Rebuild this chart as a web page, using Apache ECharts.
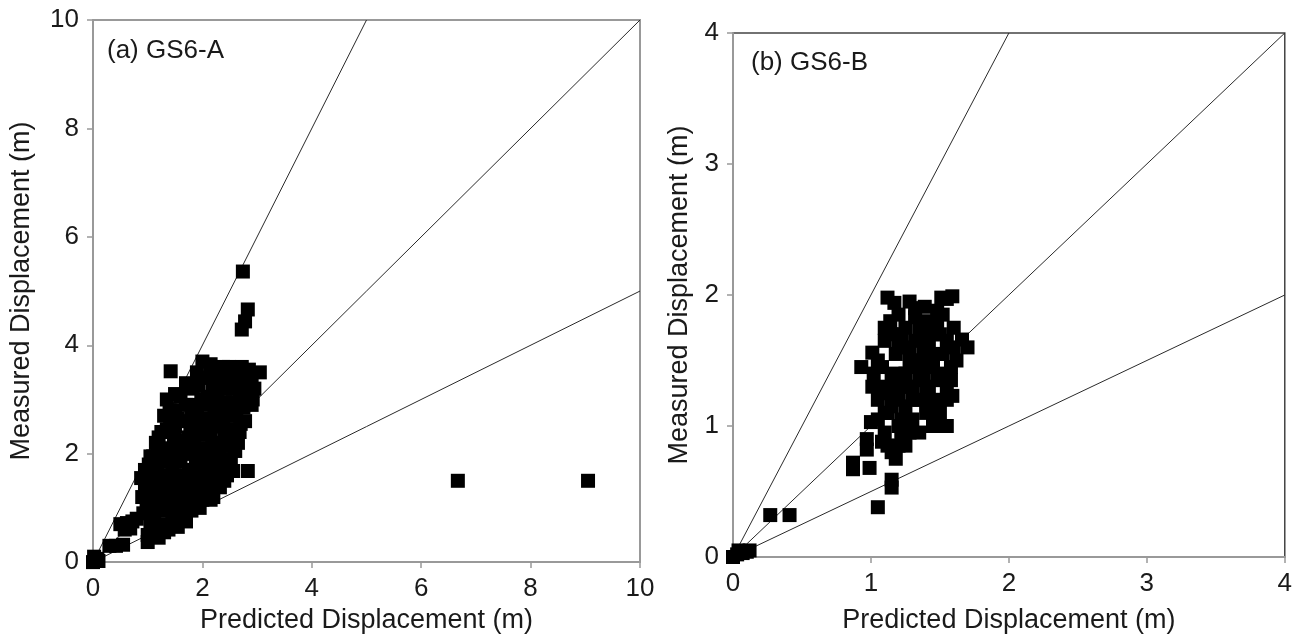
<!DOCTYPE html>
<html>
<head>
<meta charset="utf-8">
<script src="https://cdn.jsdelivr.net/npm/echarts@6/dist/echarts.min.js"></script>
<style>
  html, body { margin: 0; padding: 0; background: #fff; }
  #chart { width: 1295px; height: 639px; }
</style>
</head>
<body>
<div id="chart"></div>
<script>
// Panel (a) GS6-A: [predicted, measured] displacement in metres
const gs6aPoints = [
  [0, 0], [0.04, 0.03], [0.08, 0.06], [0.02, 0.1], [0.1, 0.02],
  [0.3, 0.3], [0.42, 0.3], [0.55, 0.32], [0.5, 0.7], [0.62, 0.72], [0.72, 0.75],
  [0.8, 0.8], [0.68, 0.62], [0.58, 0.6], [1.0, 0.37],
  [0.88, 1.55], [0.9, 1.2], [0.92, 0.9], [0.95, 1.7], [0.98, 1.0], [1.0, 0.5],
  [1.0, 1.35], [1.02, 1.8], [1.05, 0.75], [1.05, 1.1], [1.08, 1.5], [1.1, 0.6],
  [1.1, 1.95], [1.12, 0.9], [1.15, 1.25], [1.15, 2.2], [1.18, 1.65], [1.2, 0.45],
  [1.2, 1.0], [1.22, 1.4], [1.25, 2.4], [1.25, 0.7], [1.28, 1.85], [1.3, 1.1],
  [1.3, 2.7], [1.32, 0.95], [1.35, 1.55], [1.35, 2.1], [1.38, 0.6], [1.4, 1.3],
  [1.4, 2.8], [1.42, 3.52], [1.45, 1.75], [1.45, 0.8], [1.48, 2.3], [1.5, 1.05],
  [1.5, 2.0], [1.5, 2.8], [1.52, 1.45], [1.55, 0.65], [1.55, 2.65], [1.58, 1.2],
  [1.6, 1.85], [1.6, 3.05], [1.62, 0.9], [1.65, 1.6], [1.65, 2.25], [1.68, 1.35],
  [1.7, 2.9], [1.7, 0.75], [1.72, 1.1], [1.75, 2.0], [1.75, 1.7], [1.78, 2.5],
  [1.8, 0.95], [1.8, 1.4], [1.82, 3.2], [1.85, 2.2], [1.85, 1.2], [1.88, 1.85],
  [1.9, 2.7], [1.9, 3.5], [1.92, 1.55], [1.95, 1.0], [1.95, 2.35], [1.98, 3.0],
  [2.0, 1.75], [2.0, 3.7], [2.02, 1.3], [2.05, 2.1], [2.05, 2.9], [2.08, 1.9],
  [2.1, 3.4], [2.1, 1.5], [2.12, 2.5], [2.15, 1.15], [2.15, 3.65], [2.18, 2.2],
  [2.2, 1.7], [2.2, 3.1], [2.22, 2.8], [2.25, 1.4], [2.25, 3.55], [2.28, 2.0],
  [2.3, 2.6], [2.32, 1.38], [2.32, 3.3], [2.35, 1.8], [2.38, 3.6], [2.4, 2.3],
  [2.42, 2.95], [2.45, 1.6], [2.45, 3.4], [2.48, 2.15], [2.5, 2.7], [2.5, 3.55],
  [2.52, 1.9], [2.55, 3.2], [2.56, 1.68], [2.58, 2.45], [2.6, 2.9], [2.62, 3.5],
  [2.65, 2.2], [2.68, 3.1], [2.7, 2.55], [2.72, 3.6], [2.72, 4.29], [2.74, 5.36],
  [2.75, 2.85], [2.78, 4.44], [2.8, 3.3], [2.83, 1.68], [2.83, 4.66], [2.85, 2.95],
  [2.88, 3.45], [2.9, 2.9], [2.95, 3.2], [3.05, 3.5],
  [1.9, 1.05], [2.1, 1.25], [2.2, 1.2], [1.7, 0.9], [1.6, 1.0], [1.3, 0.55],
  [0.95, 1.3], [1.0, 1.55], [1.05, 1.95], [1.1, 1.3], [1.12, 1.7], [1.18, 2.0],
  [1.2, 2.3], [1.25, 1.6], [1.28, 1.25], [1.3, 1.95], [1.35, 2.45], [1.38, 1.05],
  [1.4, 1.9], [1.42, 2.6], [1.45, 1.2], [1.48, 1.6], [1.5, 2.5], [1.52, 0.85],
  [1.55, 1.5], [1.58, 2.2], [1.6, 1.35], [1.62, 2.6], [1.65, 1.1], [1.68, 2.0],
  [1.72, 1.5], [1.75, 2.3], [1.78, 1.05], [1.8, 2.7], [1.82, 1.6], [1.85, 2.9],
  [1.88, 1.35], [1.9, 2.1], [1.92, 3.25], [1.95, 1.8], [1.98, 2.55], [2.0, 1.15],
  [2.02, 3.4], [2.05, 1.6], [2.08, 2.65], [2.1, 3.05], [2.12, 1.95], [2.15, 2.35],
  [2.18, 3.3], [2.2, 1.55], [2.25, 2.6], [2.28, 3.0], [2.3, 2.15], [2.35, 3.45],
  [2.38, 2.5], [2.4, 1.9], [2.42, 3.2], [2.45, 2.75], [2.48, 3.6], [2.52, 2.35],
  [2.55, 2.95], [2.58, 3.35], [2.6, 2.05], [2.62, 2.7], [2.65, 3.3], [2.68, 2.4],
  [2.72, 3.0], [2.75, 3.45], [2.78, 2.6], [2.8, 3.1], [2.85, 3.55], [2.9, 3.35],
  [2.92, 3.0], [1.35, 3.0], [1.5, 3.1], [1.7, 3.3], [2.0, 2.0], [2.3, 1.75],
  [2.4, 1.5], [1.15, 1.5], [1.05, 0.95],
  [6.67, 1.5], [9.05, 1.5]
];

// Panel (b) GS6-B: [predicted, measured] displacement in metres
const gs6bPoints = [
  [0, 0], [0.03, 0.02], [0.07, 0.03], [0.1, 0.04], [0.04, 0.05], [0.12, 0.05],
  [0.27, 0.32], [0.41, 0.32], [1.05, 0.38], [1.15, 0.53], [1.15, 0.59],
  [0.87, 0.67], [0.87, 0.72], [0.99, 0.68], [0.97, 0.82], [0.97, 0.9],
  [1.0, 1.03], [1.12, 1.98], [1.17, 1.94], [1.32, 1.9], [1.39, 1.91],
  [1.51, 1.98], [1.59, 1.99], [1.55, 1.97], [1.14, 1.8], [1.32, 1.83],
  [1.48, 1.79], [1.66, 1.66], [1.7, 1.6], [0.93, 1.45], [1.01, 1.56],
  [1.01, 1.3], [1.59, 1.23], [1.05, 1.2], [1.08, 1.45], [1.1, 0.95],
  [1.1, 1.65], [1.12, 1.1], [1.15, 1.35], [1.15, 0.8], [1.18, 1.55],
  [1.2, 1.0], [1.2, 1.25], [1.22, 1.7], [1.22, 0.9], [1.25, 1.4],
  [1.25, 1.15], [1.28, 1.6], [1.3, 1.05], [1.3, 1.3], [1.32, 1.5],
  [1.35, 1.2], [1.35, 1.75], [1.38, 1.4], [1.4, 1.6], [1.4, 1.1],
  [1.42, 1.3], [1.45, 1.5], [1.45, 1.0], [1.48, 1.2], [1.5, 1.7],
  [1.5, 1.4], [1.52, 1.55], [1.55, 1.0], [1.55, 1.3], [1.58, 1.45],
  [1.6, 1.6], [1.62, 1.5], [1.18, 0.75], [1.25, 0.85], [1.08, 0.88],
  [1.2, 1.85], [1.42, 1.65], [1.3, 1.45], [1.12, 1.25], [1.48, 1.88],
  [1.05, 1.5], [1.28, 1.95],
  [1.05, 1.05], [1.08, 1.3], [1.1, 1.75], [1.12, 0.85], [1.15, 1.15],
  [1.18, 1.4], [1.2, 1.6], [1.22, 1.05], [1.25, 1.75], [1.25, 1.3],
  [1.28, 0.95], [1.28, 1.5], [1.3, 1.2], [1.32, 1.65], [1.35, 1.35],
  [1.35, 0.95], [1.38, 1.55], [1.4, 1.8], [1.4, 1.25], [1.42, 1.45],
  [1.45, 1.15], [1.45, 1.7], [1.48, 1.35], [1.5, 1.55], [1.5, 1.1],
  [1.52, 1.85], [1.55, 1.65], [1.55, 1.2], [1.58, 1.35], [1.6, 1.75],
  [1.02, 1.4], [1.1, 1.1], [1.18, 1.2], [1.22, 1.35], [1.15, 1.7],
  [1.2, 0.85], [1.25, 1.0], [1.35, 1.5]
];

// Reference lines: measured = k * predicted
const ratioLines = [2, 1, 0.5];

const axisMaxA = 10, axisStepA = 2;
const axisMaxB = 4, axisStepB = 1;

const FONT = '"Liberation Sans", Arial, sans-serif';

function ratioSeries(axisMax, idx) {
  return ratioLines.map(k => {
    const xEnd = Math.min(axisMax, axisMax / k);
    return {
      type: 'line', xAxisIndex: idx, yAxisIndex: idx,
      data: [[0, 0], [xEnd, k * xEnd]],
      symbol: 'none', silent: true, z: 2,
      lineStyle: { color: '#2a2a2a', width: 1 }
    };
  });
}

function valueAxis(max, step, name, gap, labelMargin) {
  return {
    type: 'value', min: 0, max: max, interval: step,
    name: name, nameLocation: 'middle', nameGap: gap,
    nameTextStyle: { fontFamily: FONT, fontSize: 27, color: '#1a1a1a' },
    axisLine: { show: true, onZero: false, lineStyle: { color: '#999', width: 2 } },
    axisTick: { show: true, inside: false, length: 6, lineStyle: { color: '#999', width: 1.5 } },
    axisLabel: { fontFamily: FONT, fontSize: 26, color: '#1a1a1a', margin: labelMargin },
    splitLine: { show: false }
  };
}

const chart = echarts.init(document.getElementById('chart'), null, { renderer: 'canvas' });

chart.setOption({
  animation: false,
  backgroundColor: '#fff',
  grid: [
    { left: 93, top: 20, width: 547, height: 543, show: true,
      borderColor: '#999', borderWidth: 2, backgroundColor: 'transparent' },
    { left: 733, top: 33, width: 552, height: 525, show: true,
      borderColor: '#444', borderWidth: 1.5, backgroundColor: 'transparent' }
  ],
  xAxis: [
    Object.assign(valueAxis(axisMaxA, axisStepA, 'Predicted Displacement (m)', 44, 14), { gridIndex: 0 }),
    Object.assign(valueAxis(axisMaxB, axisStepB, 'Predicted Displacement (m)', 50, 14), { gridIndex: 1 })
  ],
  yAxis: [
    Object.assign(valueAxis(axisMaxA, axisStepA, 'Measured Displacement (m)', 58, 14), { gridIndex: 0 }),
    Object.assign(valueAxis(axisMaxB, axisStepB, 'Measured Displacement (m)', 40, 14), { gridIndex: 1 })
  ],
  graphic: [
    { type: 'text', left: 107, top: 38,
      style: { text: '(a) GS6-A', font: '26px ' + FONT, fill: '#1a1a1a' } },
    { type: 'text', left: 751, top: 50,
      style: { text: '(b) GS6-B', font: '26px ' + FONT, fill: '#1a1a1a' } }
  ],
  series: [
    ...ratioSeries(axisMaxA, 0),
    ...ratioSeries(axisMaxB, 1),
    {
      type: 'scatter', xAxisIndex: 0, yAxisIndex: 0, data: gs6aPoints,
      symbol: 'rect', symbolSize: 14, z: 5,
      itemStyle: { color: '#000', opacity: 1 }
    },
    {
      type: 'scatter', xAxisIndex: 1, yAxisIndex: 1, data: gs6bPoints,
      symbol: 'rect', symbolSize: 14, z: 5,
      itemStyle: { color: '#000', opacity: 1 }
    }
  ]
});
</script>
</body>
</html>
